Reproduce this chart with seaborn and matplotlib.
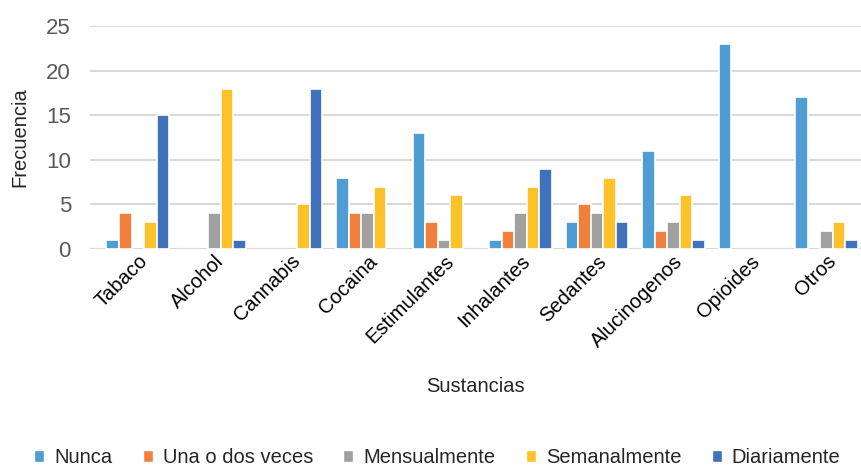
import pandas as pd
import matplotlib
matplotlib.use("Agg")
import matplotlib.pyplot as plt
from matplotlib.patches import Patch
import seaborn as sns

sustancias = ["Tabaco", "Alcohol", "Cannabis", "Cocaina", "Estimulantes",
              "Inhalantes", "Sedantes", "Alucinogenos", "Opioides", "Otros"]
frecuencias = ["Nunca", "Una o dos veces", "Mensualmente", "Semanalmente", "Diariamente"]

nunca = [1, 0, 0, 8, 13, 1, 3, 11, 23, 17]
una_o_dos = [4, 0, 0, 4, 3, 2, 5, 2, 0, 0]
mensual = [0, 4, 0, 4, 1, 4, 4, 3, 0, 2]
semanal = [3, 18, 5, 7, 6, 7, 8, 6, 0, 3]
diario = [15, 1, 18, 0, 0, 9, 3, 1, 0, 1]

colores = ["#4E9DD5", "#F0803C", "#A0A0A0", "#FDC12A", "#4072BB"]


def main():
    series = [nunca, una_o_dos, mensual, semanal, diario]
    rows = []
    for freq, vals in zip(frecuencias, series):
        for s, v in zip(sustancias, vals):
            rows.append({"Sustancias": s, "Frecuencia": freq, "Valor": v})
    df = pd.DataFrame(rows)

    sns.set_theme(style="white")
    plt.rcParams["font.family"] = ["Liberation Sans", "DejaVu Sans"]

    fig = plt.figure(figsize=(8.61, 4.67), dpi=100)
    ax = fig.add_axes([0.105, 0.467, 0.895, 0.477])

    sns.barplot(data=df, x="Sustancias", y="Valor", hue="Frecuencia",
                order=sustancias, hue_order=frecuencias, palette=colores,
                saturation=1, width=0.82, edgecolor="white", linewidth=1.2,
                legend=False, ax=ax)
    # las barras con valor cero no deben dejar marca sobre la línea base
    for p in ax.patches:
        if p.get_height() == 0:
            p.set_linewidth(0)

    ax.set_ylim(0, 25)
    ax.set_yticks([0, 5, 10, 15, 20, 25])
    ax.yaxis.grid(True, color="#D9D9D9", linewidth=1.5)
    ax.set_axisbelow(True)
    for sp in ax.spines.values():
        sp.set_visible(False)
    ax.axhline(0, color="#D9D9D9", linewidth=1.5, zorder=0)

    ax.tick_params(axis="y", labelsize=16, colors="#595959", length=0, pad=14)
    ax.tick_params(axis="x", labelsize=14.5, colors="#000000", length=0, pad=2)
    plt.setp(ax.get_xticklabels(), rotation=45, ha="right", rotation_mode="anchor")

    ax.set_xlabel("Sustancias", fontsize=14.5, labelpad=19)
    ax.set_ylabel("Frecuencia", fontsize=14.5, labelpad=12)
    ax.set_xlim(-0.62, 9.45)

    handles = [Patch(facecolor=c, label=f) for c, f in zip(colores, frecuencias)]
    fig.legend(handles=handles, loc="center", bbox_to_anchor=(0.508, 0.02), ncol=5,
               frameon=False, fontsize=14.5, handlelength=0.5, handleheight=0.55,
               handletextpad=0.5, columnspacing=1.5)

    fig.savefig("out.png", dpi=100)
    plt.close(fig)


if __name__ == "__main__":
    main()
